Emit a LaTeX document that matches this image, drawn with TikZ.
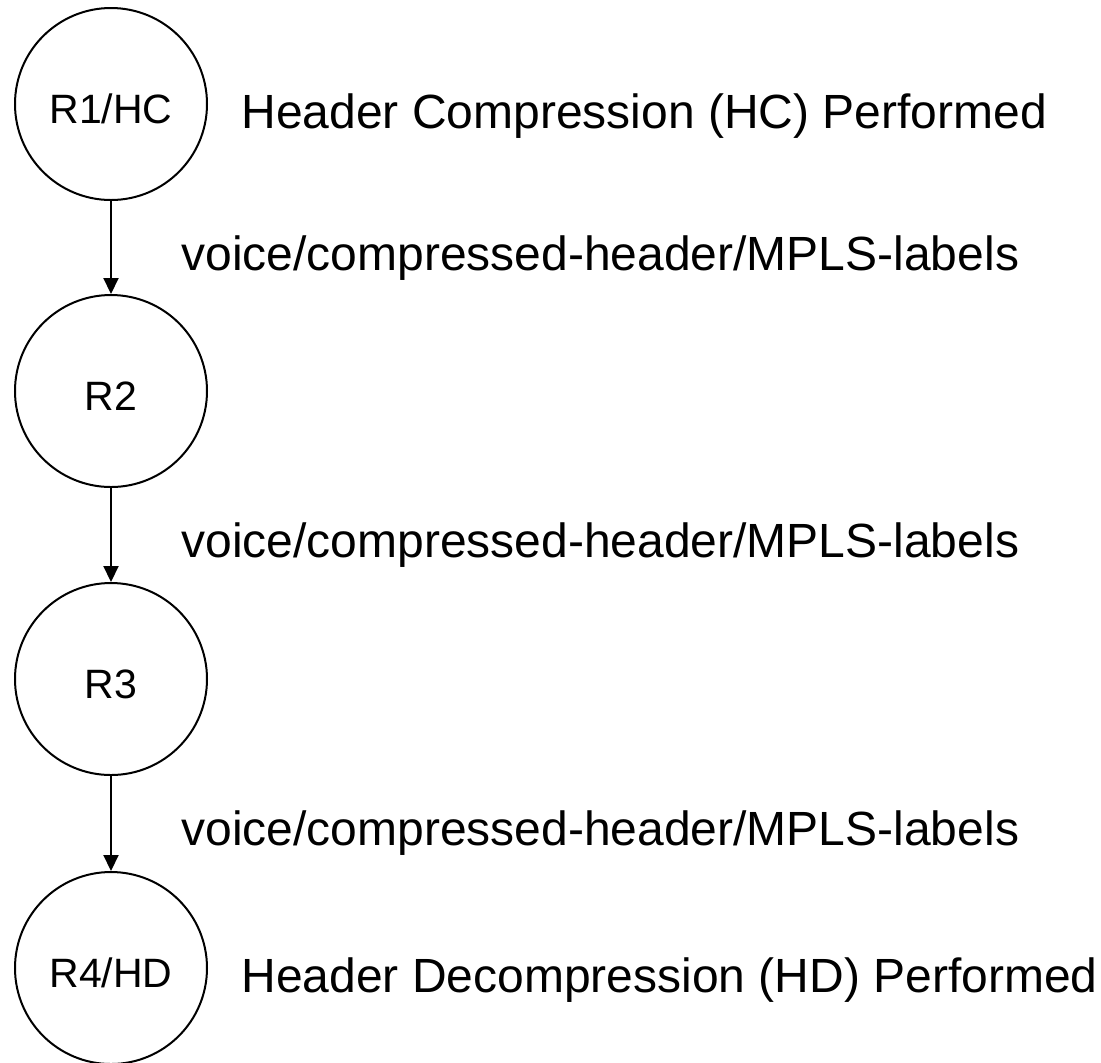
\documentclass[tikz,border=0pt]{standalone}
\usepackage{fontspec}
\setmainfont{Liberation Sans}
\usetikzlibrary{arrows.meta}
\begin{document}
\begin{tikzpicture}[x=0.5pt,y=-0.5pt,
    router/.style={draw,circle,line width=1pt,minimum size=96pt,inner sep=0pt,
      font=\fontsize{20.5pt}{24pt}\selectfont,text height=19.7pt,text depth=0pt},
    hop/.style={line width=1pt,-{Triangle[length=8pt,width=7.5pt]}},
    note/.style={anchor=base west,inner sep=0pt,font=\fontsize{24pt}{28pt}\selectfont}]
            \useasboundingbox (0,0) rectangle (1101,1062);
                \node [router] (r1) at (111,104) {R1/HC};
                \node [router] (r2) at (111,391) {R2};
                \node [router] (r3) at (111,679) {R3};
                \node [router] (r4) at (111,968) {R4/HD};
                \node [note] (hc) at (241,128) {Header Compression (HC) Performed};
                \node [note] (l12) at (181,270) {voice/compressed-header/MPLS-labels};
                \node [note] (l23) at (181,557) {voice/compressed-header/MPLS-labels};
                \node [note] (l34) at (181,845) {voice/compressed-header/MPLS-labels};
                \node [note] (hd) at (241,992) {Header Decompression (HD) Performed};
                % hops
                \draw [hop] (r1) -- (r2);
                \draw [hop] (r2) -- (r3);
                \draw [hop] (r3) -- (r4);
            \end{tikzpicture}
\end{document}
